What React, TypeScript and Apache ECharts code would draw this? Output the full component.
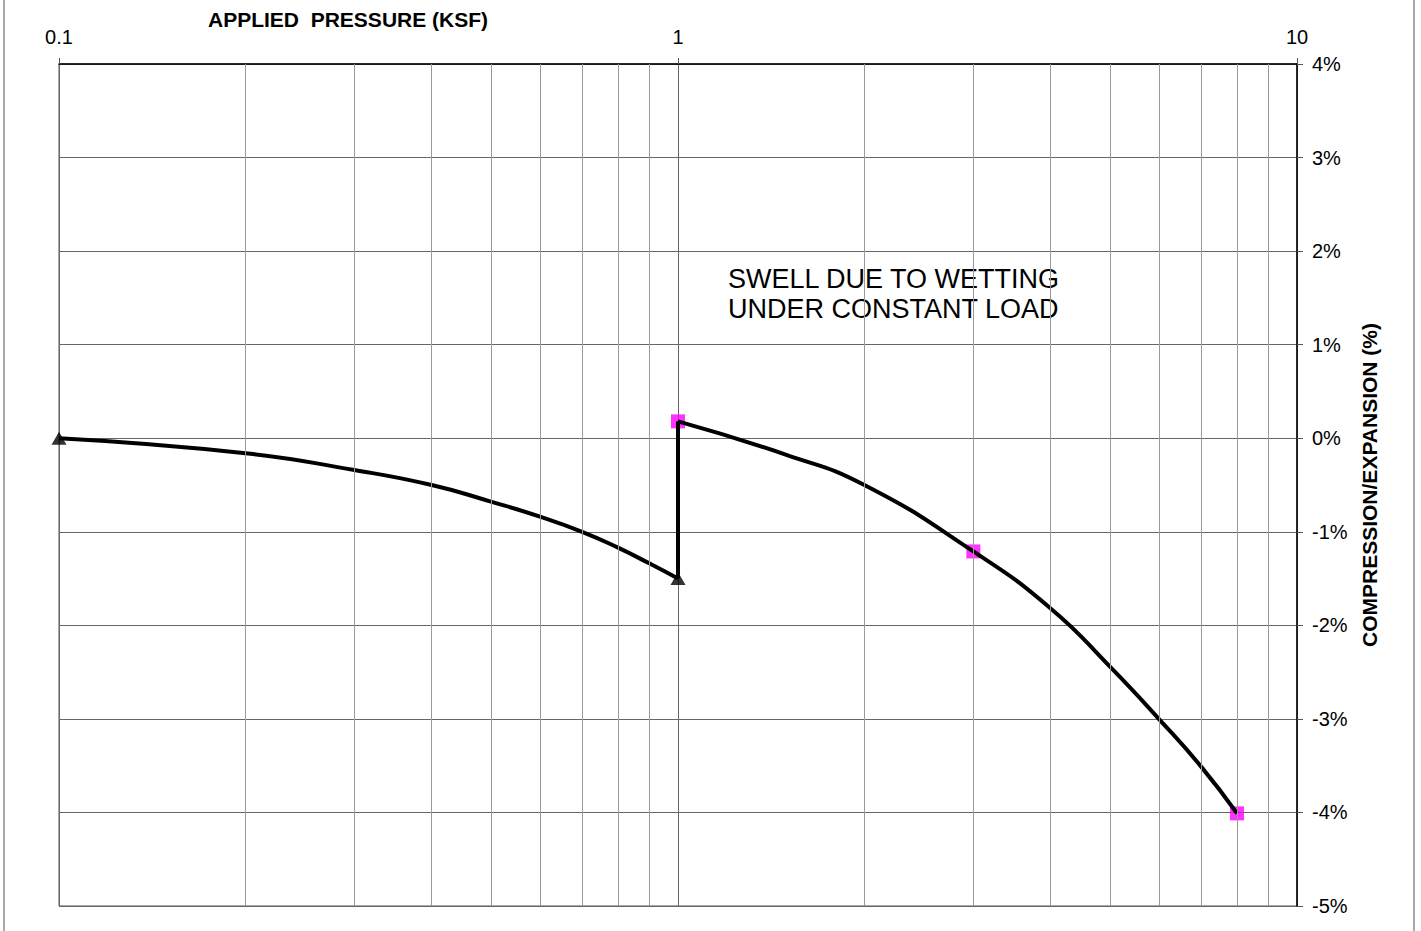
import React, { useEffect, useRef } from "react";
import * as echarts from "echarts";

// Pressure (ksf) vs. compression/expansion (%)
const preWetting: number[][] = [
  [0.1, 0], [0.2, -0.16], [0.3, -0.34], [0.4, -0.5], [0.5, -0.68],
  [0.6, -0.84], [0.7, -1.0], [0.8, -1.17], [0.9, -1.34], [1, -1.5],
];
const wettingStep: number[][] = [[1, -1.5], [1, 0.18]];
const postWetting: number[][] = [
  [1, 0.18], [1.5, -0.18], [2, -0.5], [3, -1.21], [4, -1.82],
  [5, -2.45], [6, -3.01], [7, -3.51], [8, -4.01],
];
const preWettingMarks: number[][] = [[0.1, 0], [1, -1.5]];
const postWettingMarks: number[][] = [[1, 0.18], [3, -1.21], [8, -4.01]];
const minorGridX: number[] = [0.2, 0.3, 0.4, 0.5, 0.6, 0.7, 0.8, 0.9, 2, 3, 4, 5, 6, 7, 8, 9];
const xTitle = "APPLIED  PRESSURE (KSF)";
const yTitle = "COMPRESSION/EXPANSION (%)";
const noteLines = ["SWELL DUE TO WETTING", "UNDER CONSTANT LOAD"];

const FONT = "Arial, 'Liberation Sans', sans-serif";

export default function App() {
  const ref = useRef<HTMLDivElement>(null);
  useEffect(() => {
    if (!ref.current) return;
    const chart = echarts.init(ref.current, null, { renderer: "svg" });
    chart.setOption({
      animation: false,
      backgroundColor: "#ffffff",
      textStyle: { fontFamily: FONT },
      grid: {
        left: 59, right: 124, top: 64, bottom: 25,
        show: true, borderColor: "#555", borderWidth: 1,
      },
      xAxis: {
        type: "log",
        logBase: 10,
        min: 0.1,
        max: 10,
        position: "top",
        axisLine: { show: true, onZero: false, lineStyle: { color: "#000", width: 1.5 } },
        axisTick: { show: true, inside: false, length: 6, lineStyle: { color: "#555" } },
        axisLabel: {
          color: "#000", fontSize: 20, fontFamily: FONT, margin: 17,
          formatter: (v: number) => String(v),
        },
        splitLine: { show: true, lineStyle: { color: "#666", width: 1 } },
      },
      yAxis: {
        type: "value",
        min: -5,
        max: 4,
        interval: 1,
        position: "right",
        name: yTitle,
        nameLocation: "middle",
        nameRotate: 90,
        nameGap: 62,
        nameTextStyle: { color: "#000", fontSize: 21, fontWeight: "bold", fontFamily: FONT },
        axisLine: { show: true, onZero: false, lineStyle: { color: "#000", width: 1.5 } },
        axisTick: { show: true, inside: false, length: 6, lineStyle: { color: "#555" } },
        axisLabel: {
          color: "#000", fontSize: 20, fontFamily: FONT, margin: 15,
          formatter: (v: number) => `${v}%`,
        },
        splitLine: { show: true, lineStyle: { color: "#666", width: 1 } },
      },
      series: [
        {
          type: "line",
          name: "minor grid",
          data: [],
          silent: true,
          markLine: {
            silent: true,
            symbol: "none",
            label: { show: false },
            lineStyle: { color: "#999", width: 1, type: "solid" },
            data: minorGridX.map((x) => ({ xAxis: x })),
          },
          z: 1,
        },
        {
          type: "line",
          name: "before wetting",
          data: preWetting,
          smooth: 0.5,
          symbol: "none",
          lineStyle: { color: "#000", width: 4 },
          z: 3,
        },
        {
          type: "line",
          name: "wetting",
          data: wettingStep,
          symbol: "none",
          lineStyle: { color: "#000", width: 4 },
          z: 3,
        },
        {
          type: "line",
          name: "after wetting",
          data: postWetting,
          smooth: 0.5,
          symbol: "none",
          lineStyle: { color: "#000", width: 4 },
          z: 4,
        },
        {
          type: "scatter",
          name: "before wetting marks",
          data: preWettingMarks,
          symbol: "triangle",
          symbolSize: [15, 13],
          itemStyle: { color: "#000" },
          z: 5,
        },
        {
          type: "scatter",
          name: "after wetting marks",
          data: postWettingMarks,
          symbol: "rect",
          symbolSize: 14,
          itemStyle: { color: "#ff00ff" },
          z: 2,
        },
      ],
      graphic: [
        {
          type: "rect",
          shape: { x: 4, y: -5, width: 1410, height: 945 },
          style: { fill: "none", stroke: "#aaa", lineWidth: 2 },
          silent: true,
        },
        {
          type: "text",
          left: 208,
          top: 9,
          style: { text: xTitle, fill: "#000", font: `bold 21px ${FONT}` },
        },
        {
          type: "text",
          left: 728,
          top: 264,
          style: {
            text: noteLines.join("\n"),
            fill: "#000",
            font: `27px ${FONT}`,
            lineHeight: 30,
          },
        },
      ],
    });
    return () => chart.dispose();
  }, []);
  return (
    <div
      ref={ref}
      style={{ position: "fixed", left: 0, top: 0, width: 1421, height: 931 }}
    />
  );
}
